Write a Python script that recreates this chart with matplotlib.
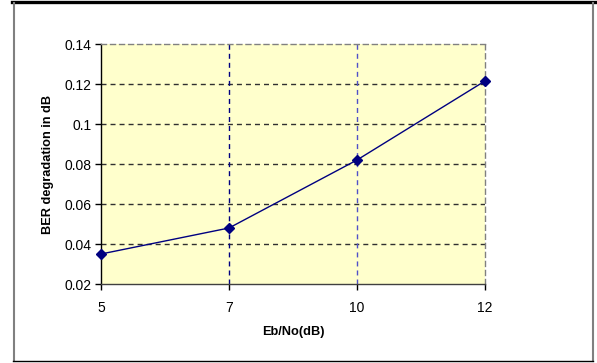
import matplotlib
matplotlib.use("Agg")
import matplotlib.pyplot as plt
from matplotlib.lines import Line2D

# Eb/No categories (evenly spaced category axis) and BER degradation values
ebno = ["5", "7", "10", "12"]
ber_deg = [0.035, 0.048, 0.082, 0.1215]
y_ticks = [0.02, 0.04, 0.06, 0.08, 0.1, 0.12, 0.14]
y_labels = ["0.02", "0.04", "0.06", "0.08", "0.1", "0.12", "0.14"]

plt.rcParams["font.family"] = ["Liberation Sans", "DejaVu Sans"]

fig = plt.figure(figsize=(5.97, 3.63), dpi=100)
ax = fig.add_axes([101 / 597, 1 - 284 / 363, 384 / 597, 240 / 363])
ax.set_facecolor("#ffffcc")

pos = list(range(len(ebno)))
dash = (0, (3.6, 2.9))

# gridlines
for yv in y_ticks[1:-1]:
    ax.axhline(yv, color="#303030", lw=1.0, ls=dash, zorder=1)
ax.axvline(pos[1], color="#000080", lw=1.0, ls=dash, zorder=1)
ax.axvline(pos[2], color="#5050c8", lw=1.0, ls=dash, zorder=1)

ax.plot(pos, ber_deg, color="#000080", lw=1.0, marker="D", ms=5,
        markerfacecolor="#000080", markeredgecolor="#000080", zorder=3,
        clip_on=False)

ax.set_xlim(pos[0], pos[-1])
ax.set_ylim(0.02, 0.14)
ax.set_xticks(pos)
ax.set_xticklabels(ebno)
ax.set_yticks(y_ticks)
ax.set_yticklabels(y_labels)
ax.tick_params(direction="out", length=4, width=1, labelsize=10, pad=3,
               colors="black")
ax.tick_params(axis="x", pad=8)

ax.spines["left"].set_color("black")
ax.spines["bottom"].set_color("#404040")
ax.spines["top"].set_color("#808080")
ax.spines["right"].set_color("#808080")
ax.spines["top"].set_linestyle(dash)
ax.spines["right"].set_linestyle(dash)
for s in ax.spines.values():
    s.set_linewidth(1.0)

ax.set_xlabel("Eb/No(dB)", fontsize=9.2, fontweight="bold", labelpad=8)
ax.set_ylabel("BER degradation in dB", fontsize=9.2, fontweight="bold",
              labelpad=7)

# outer chart frame
W, H = 597, 363
fig.add_artist(Line2D([12 / W, 1], [1 - 1.5 / H, 1 - 1.5 / H],
                      color="black", lw=2.4, transform=fig.transFigure))
fig.add_artist(Line2D([13.5 / W, 13.5 / W], [1 - 3 / H, 1 - 361 / H],
                      color="#808080", lw=1.5, transform=fig.transFigure))
fig.add_artist(Line2D([592.5 / W, 592.5 / W], [1 - 3 / H, 1 - 361 / H],
                      color="#808080", lw=1.5, transform=fig.transFigure))
fig.add_artist(Line2D([13 / W, 593 / W], [1 - 361 / H, 1 - 361 / H],
                      color="black", lw=1.0, transform=fig.transFigure))

fig.savefig("out.png", dpi=100)
